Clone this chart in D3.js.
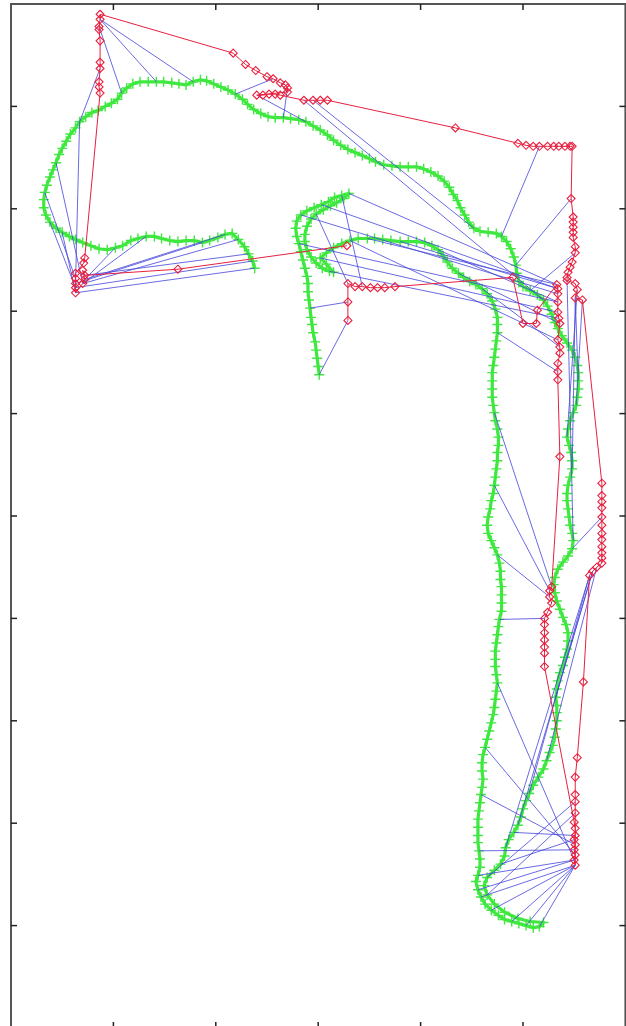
<!DOCTYPE html>
<html><head><meta charset="utf-8">
<script src="https://cdn.jsdelivr.net/npm/d3@7"></script>
<style>html,body{margin:0;padding:0;background:#fff;overflow:hidden}</style>
</head><body>
<svg id="chart" width="626" height="1026"></svg>
<script>
// Ground-truth trajectory (decimetres), in time order
const truthX = [301,300,299,298,297,295,294,293,292,291,290,290,289,287,285,283,281,279,278,279,283,289,296,303,310,316,323,330,
325,318,312,305,298,293,289,287,287,289,293,298,304,311,315,308,302,308,315,323,331,339,
348,355,363,371,380,388,396,404,411,417,422,426,431,437,442,448,454,460,465,470,
473,475,475,475,474,473,472,471,470,470,470,470,471,472,473,475,476,476,475,475,
474,473,472,471,469,468,466,465,466,469,472,475,477,478,478,479,479,479,479,477,
476,475,474,473,473,473,474,475,474,473,472,471,469,467,465,463,461,460,460,461,
460,459,458,457,456,456,456,456,457,458,458,456,454,456,459,463,469,476,482,489,496,503,510,516,520,
507,495,482,472,465,462,465,472,478,482,483,486,491,495,498,500,503,506,510,515,
520,523,526,529,531,532,533,533,533,532,533,534,536,539,541,543,544,544,542,539,536,533,531,530,531,
534,539,544,548,549,548,546,545,544,543,543,544,546,548,548,547,545,543,544,546,549,552,553,554,554,
554,553,551,548,543,538,534,531,528,524,520,514,507,500,496,494,493,491,488,484,479,474,466,458,452,
447,443,439,436,432,428,423,417,410,403,396,388,380,372,364,356,350,343,336,329,322,315,309,302,295,
288,281,273,266,258,251,244,237,231,226,219,212,205,198,191,185,178,171,164,157,149,142,134,126,119,
113,108,104,98,92,85,79,73,67,63,58,54,50,47,44,41,38,35,33,32,32,34,38,44,50,
57,63,70,78,86,94,102,109,117,124,132,140,147,155,163,171,179,187,194,202,209,216,222,228,232,236,238];
const truthY = [638,646,654,662,670,679,687,694,703,711,719,727,734,742,750,758,766,773,781,788,794,798,801,804,807,811,813,815,
810,806,803,799,795,790,783,775,768,760,753,747,742,739,738,746,752,757,762,766,769,771,
771,771,770,769,768,768,768,767,764,760,754,748,742,737,733,729,726,722,717,710,
702,694,687,679,671,663,655,647,640,632,624,616,608,601,593,585,577,569,562,554,
546,538,530,522,515,507,499,491,483,476,469,462,454,446,438,431,423,415,407,399,
392,384,376,368,360,353,345,337,329,321,313,306,298,290,282,274,267,259,251,243,
235,228,220,212,204,196,188,181,173,165,157,149,143,135,128,121,115,110,106,104,102,100,98,99,103,
104,107,113,121,130,139,147,154,160,168,176,184,191,198,206,214,222,229,237,245,
253,261,269,276,284,292,300,308,315,323,331,339,347,354,362,370,378,386,394,401,409,417,425,433,440,
448,455,461,468,476,483,491,499,507,515,522,530,538,546,554,562,569,577,585,593,601,608,616,624,632,
640,647,655,662,669,676,683,689,697,705,711,716,720,724,729,737,745,753,761,768,773,776,777,778,781,
787,794,801,808,814,821,827,832,836,839,841,841,841,842,843,846,849,852,855,858,862,867,872,877,881,
885,887,888,889,889,890,893,897,902,907,912,916,919,922,925,926,924,921,922,923,924,924,924,924,922,
918,913,907,903,900,896,894,890,885,879,873,866,859,853,845,838,831,823,816,809,801,794,787,781,777,
773,770,767,764,761,760,762,764,769,771,773,773,771,769,768,769,769,767,769,772,775,776,770,763,756,749,742];

// Estimated trajectory (decimetres), in time order
const estX = [329,329,329,336,343,351,358,365,375,
490,500,513,514,
533,534,534,534,534,535,536,534,536,536,534,534,534,
536,528,526,526,528,524,521,521,521,521,521,521,521,
550,551,551,550,551,550,551,550,551,
551,551,551,551,553,559,
565,568,572,577,577,577,577,577,577,577,577,577,577,577,577,
558,551,553,551,543,543,544,546,548,551,551,549,549,549,549,549,547,
548,546,541,535,530,524,516,510,503,495,434,
309,302,295,286,263,258,252,246,240,
270,270,268,263,256,250,239,229,217,
87,87,86,86,87,87,87,86,86,87,
72,71,63,63,63,63,63,70,72,70,72,
163,328];
const estY = [691,709,727,724,724,723,723,723,724,
733,688,688,701,
726,722,717,709,699,693,688,672,665,659,649,641,633,
558,431,427,421,415,406,400,394,386,379,372,366,353,
201,195,188,184,179,174,169,164,159,
210,221,228,245,264,338,
442,446,450,454,459,464,470,477,483,491,499,508,514,520,532,
711,713,721,727,730,733,738,743,748,757,763,772,777,782,787,792,810,
861,861,861,861,861,861,861,861,862,864,879,
906,906,906,906,911,912,912,911,911,
914,918,921,923,927,929,935,941,952,
990,985,978,975,964,943,937,924,919,913,
752,747,737,732,727,723,718,727,731,740,735,
741,764];

// Associations: truth sample index -> estimate index
const matchTruth = [296,291,301,308,308,318,314,322,324,335,331,345,347,349,350,351,342,285,278,249,
275,245,241,237,224,221,217,213,204,203,27,23,20,16,44,41,32,26,8,0,
50,54,59,63,48,67,73,83,92,101,109,117,125,131,138,141,144,146,149,151,
153,159,161,163,167,143,184,176,172,168,165,235];
const matchEst = [116,116,117,121,129,128,132,130,131,132,133,133,132,135,130,131,129,110,107,99,
105,92,85,78,70,69,71,70,73,64,13,14,15,16,17,18,2,4,1,0,
13,14,16,19,20,21,24,27,28,29,32,46,45,43,44,46,47,47,47,47,
47,48,49,42,41,46,55,56,54,55,54,100];

const xTicks = [100,200,300,400,500];
const yTicks = [100,200,300,400,500,600,700,800,900];

const svg = d3.select('#chart');
const x = d3.scaleLinear().domain([0,600]).range([11,625.4]);
const y = d3.scaleLinear().domain([0,1000]).range([1028,4]);

svg.append('rect').attr('width',626).attr('height',1026).attr('fill','#fff');

const GREEN = '#3fe83f', RED = '#e8203f', BLUE = '#4646dc';

const truth = truthX.map((v,i)=>[v,truthY[i]]);
const est = estX.map((v,i)=>[v,estY[i]]);

// truth path
const gT = svg.append('g');
gT.append('path').datum(truth)
  .attr('d', d3.line().x(d=>x(d[0])).y(d=>y(d[1])))
  .attr('fill','none').attr('stroke',GREEN).attr('stroke-width',3.2).attr('stroke-linejoin','round');
gT.selectAll('path.plus').data(truth).join('path').attr('class','plus')
  .attr('transform',d=>`translate(${x(d[0])},${y(d[1])})`)
  .attr('d','M-5,0H5M0,-5V5')
  .attr('stroke',GREEN).attr('stroke-width',1.4).attr('fill','none');

// association lines
svg.append('g').selectAll('line').data(matchTruth.map((t,i)=>[truth[t], est[matchEst[i]]]))
  .join('line')
  .attr('x1',d=>x(d[0][0])).attr('y1',d=>y(d[0][1]))
  .attr('x2',d=>x(d[1][0])).attr('y2',d=>y(d[1][1]))
  .attr('stroke',BLUE).attr('stroke-width',0.9).attr('stroke-opacity',0.9);

// estimate path
const gE = svg.append('g');
gE.append('path').datum(est)
  .attr('d', d3.line().x(d=>x(d[0])).y(d=>y(d[1])))
  .attr('fill','none').attr('stroke',RED).attr('stroke-width',1);
gE.selectAll('path.dia').data(est).join('path').attr('class','dia')
  .attr('transform',d=>`translate(${x(d[0])},${y(d[1])})`)
  .attr('d','M0,-4L4,0L0,4L-4,0Z')
  .attr('stroke',RED).attr('stroke-width',1.1).attr('fill','none');

// frame + inward ticks
const fr = svg.append('g');
fr.append('rect').attr('x',x(0)).attr('y',y(1000)).attr('width',x(600)-x(0)).attr('height',y(0)-y(1000))
  .attr('fill','none').attr('stroke','#555').attr('stroke-width',2);
const tl = 6;
xTicks.forEach(t=>{
  fr.append('line').attr('x1',x(t)).attr('x2',x(t)).attr('y1',y(1000)).attr('y2',y(1000)+tl).attr('stroke','#222').attr('stroke-width',1.5);
  fr.append('line').attr('x1',x(t)).attr('x2',x(t)).attr('y1',y(0)).attr('y2',y(0)-tl).attr('stroke','#222').attr('stroke-width',1.5);
});
yTicks.forEach(t=>{
  fr.append('line').attr('y1',y(t)).attr('y2',y(t)).attr('x1',x(0)).attr('x2',x(0)+tl).attr('stroke','#222').attr('stroke-width',1.5);
  fr.append('line').attr('y1',y(t)).attr('y2',y(t)).attr('x1',x(600)).attr('x2',x(600)-tl).attr('stroke','#222').attr('stroke-width',1.5);
});
</script>
</body></html>
